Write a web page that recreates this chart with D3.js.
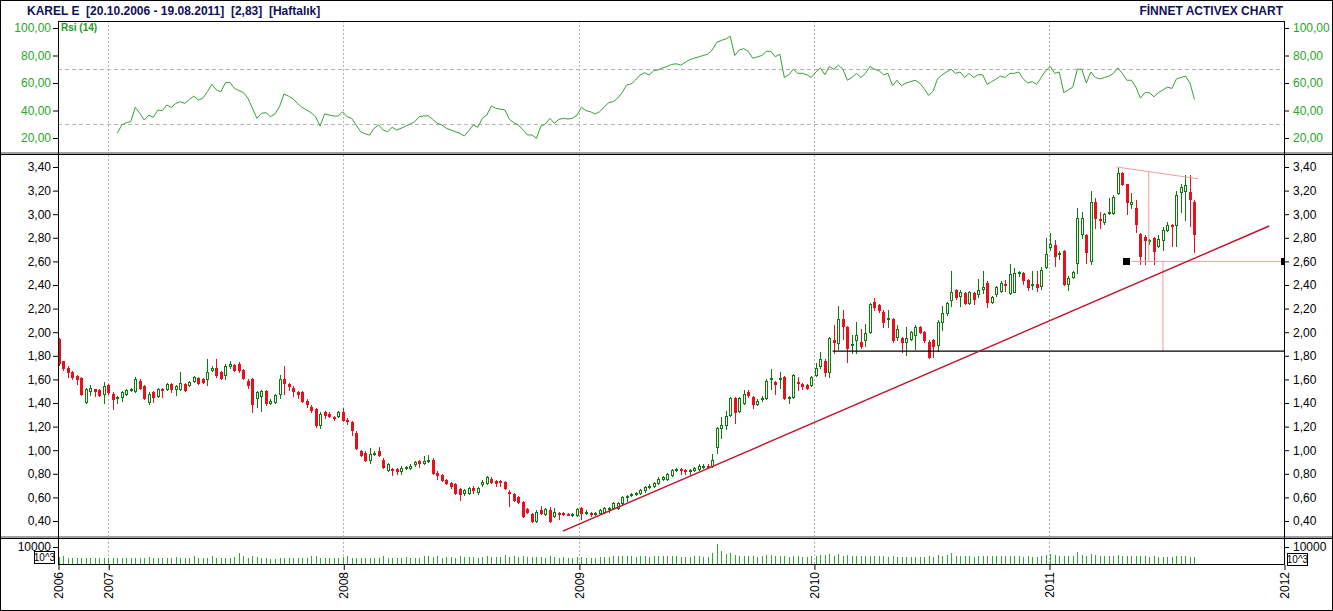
<!DOCTYPE html>
<html>
<head>
<meta charset="utf-8">
<script src="https://cdn.jsdelivr.net/npm/d3@7"></script>
<style>
body { margin: 0; background: #fff; }
svg text { font-family: Arial, "Liberation Sans", sans-serif; }
</style>
</head>
<body>
<div id="chart"></div>
<script>
// weekly bars, first bar = week of 20.10.2006 (plotted at week start)
var firstWeek = "2006-10-16";

var opens = [1.94,1.76,1.70,1.66,1.63,1.61,1.41,1.50,1.52,1.51,
  1.48,1.55,1.48,1.44,1.45,1.48,1.51,1.50,1.59,1.54,
  1.41,1.49,1.46,1.52,1.52,1.56,1.52,1.52,1.56,1.55,
  1.59,1.61,1.60,1.60,1.68,1.70,1.66,1.64,1.71,1.72,
  1.73,1.68,1.59,1.60,1.44,1.46,1.50,1.40,1.41,1.48,
  1.60,1.56,1.53,1.49,1.49,1.42,1.37,1.35,1.21,1.32,
  1.31,1.28,1.29,1.32,1.26,1.24,1.15,0.99,0.98,0.92,
  0.97,0.99,0.92,0.83,0.84,0.84,0.82,0.85,0.85,0.88,
  0.91,0.89,0.91,0.92,0.81,0.79,0.75,0.72,0.71,0.67,
  0.64,0.64,0.68,0.65,0.71,0.72,0.76,0.74,0.74,0.73,
  0.65,0.63,0.60,0.56,0.50,0.46,0.40,0.49,0.46,0.49,
  0.44,0.47,0.47,0.46,0.45,0.45,0.51,0.47,0.47,0.46,
  0.47,0.48,0.50,0.51,0.51,0.55,0.60,0.62,0.63,0.64,
  0.66,0.69,0.70,0.72,0.76,0.76,0.79,0.83,0.84,0.83,
  0.82,0.83,0.84,0.86,0.87,0.87,1.03,1.19,1.21,1.30,
  1.44,1.33,1.40,1.49,1.45,1.39,1.43,1.44,1.60,1.58,
  1.60,1.62,1.44,1.45,1.58,1.56,1.55,1.55,1.64,1.71,
  1.76,1.66,1.93,1.91,2.11,2.04,1.89,1.93,1.92,1.93,
  2.00,2.26,2.23,2.17,2.11,2.11,1.96,1.95,1.92,1.94,
  1.98,2.04,2.00,1.92,1.93,1.89,2.09,2.16,2.27,2.36,
  2.31,2.33,2.25,2.33,2.32,2.37,2.42,2.26,2.32,2.35,
  2.41,2.33,2.34,2.50,2.50,2.44,2.40,2.41,2.39,2.55,
  2.72,2.74,2.66,2.69,2.41,2.47,2.59,2.83,2.82,2.60,
  3.10,2.96,2.93,3.01,3.01,3.18,3.35,3.26,3.09,3.05,
  2.83,2.81,2.77,2.80,2.73,2.78,2.87,2.91,2.91,3.19,
  3.20,3.19,3.10];

var highs = [1.95,1.76,1.71,1.67,1.64,1.62,1.53,1.55,1.52,1.52,
  1.58,1.56,1.49,1.46,1.50,1.52,1.53,1.62,1.60,1.55,
  1.49,1.50,1.53,1.53,1.57,1.57,1.55,1.66,1.57,1.59,
  1.63,1.62,1.61,1.77,1.71,1.77,1.67,1.73,1.76,1.73,
  1.75,1.69,1.60,1.61,1.50,1.51,1.51,1.43,1.48,1.64,
  1.71,1.57,1.54,1.50,1.50,1.43,1.38,1.36,1.32,1.33,
  1.32,1.29,1.33,1.36,1.27,1.25,1.16,1.00,0.99,1.02,
  0.99,1.03,0.93,0.89,0.85,0.85,0.87,0.87,0.88,0.91,
  0.92,0.95,0.96,0.93,0.82,0.80,0.76,0.73,0.72,0.68,
  0.67,0.69,0.70,0.69,0.75,0.78,0.77,0.75,0.75,0.74,
  0.66,0.64,0.61,0.57,0.51,0.47,0.49,0.53,0.51,0.52,
  0.51,0.48,0.48,0.47,0.47,0.51,0.52,0.49,0.48,0.48,
  0.50,0.52,0.52,0.56,0.56,0.61,0.62,0.64,0.65,0.67,
  0.70,0.71,0.73,0.77,0.78,0.81,0.84,0.85,0.85,0.84,
  0.84,0.86,0.88,0.88,0.88,0.97,1.20,1.28,1.33,1.45,
  1.45,1.45,1.51,1.51,1.46,1.43,1.46,1.60,1.69,1.59,
  1.66,1.63,1.46,1.65,1.62,1.57,1.56,1.63,1.74,1.83,
  1.77,1.96,2.06,2.22,2.19,2.05,1.98,2.09,2.03,2.07,
  2.25,2.29,2.24,2.19,2.19,2.12,2.06,1.96,2.04,2.01,
  2.06,2.05,2.01,1.93,1.94,2.10,2.22,2.26,2.52,2.37,
  2.36,2.34,2.35,2.34,2.45,2.52,2.43,2.31,2.39,2.43,
  2.44,2.58,2.54,2.52,2.51,2.45,2.52,2.52,2.55,2.80,
  2.84,2.78,2.69,2.70,2.48,2.52,3.05,3.02,2.83,3.20,
  3.14,3.02,3.01,3.14,3.16,3.39,3.36,3.26,3.18,3.12,
  2.84,2.82,2.79,2.81,2.82,2.89,2.93,2.92,3.20,3.26,
  3.33,3.33,3.12];

var lows = [1.72,1.68,1.62,1.60,1.56,1.47,1.40,1.47,1.46,1.46,
  1.40,1.48,1.35,1.40,1.42,1.47,1.50,1.49,1.52,1.43,
  1.39,1.41,1.45,1.45,1.51,1.49,1.47,1.51,1.50,1.54,
  1.58,1.56,1.57,1.55,1.67,1.62,1.60,1.60,1.70,1.67,
  1.66,1.60,1.53,1.32,1.37,1.33,1.38,1.39,1.40,1.44,
  1.48,1.51,1.46,1.44,1.41,1.37,1.32,1.20,1.19,1.27,
  1.28,1.26,1.28,1.25,1.22,1.13,1.01,0.95,0.91,0.89,
  0.96,0.95,0.85,0.82,0.79,0.80,0.80,0.84,0.84,0.87,
  0.86,0.88,0.90,0.80,0.76,0.74,0.71,0.68,0.63,0.58,
  0.62,0.63,0.64,0.63,0.70,0.71,0.72,0.70,0.70,0.67,
  0.53,0.57,0.55,0.43,0.47,0.39,0.39,0.46,0.45,0.39,
  0.43,0.42,0.45,0.45,0.44,0.44,0.42,0.46,0.44,0.45,
  0.46,0.47,0.48,0.50,0.50,0.54,0.57,0.61,0.62,0.63,
  0.65,0.68,0.69,0.71,0.75,0.75,0.78,0.82,0.80,0.80,
  0.80,0.82,0.83,0.85,0.85,0.86,0.98,1.10,1.18,1.29,
  1.23,1.32,1.39,1.45,1.36,1.38,1.42,1.43,1.52,1.48,
  1.53,1.43,1.40,1.44,1.51,1.52,1.52,1.54,1.63,1.70,
  1.63,1.62,1.82,1.86,1.94,1.75,1.82,1.82,1.87,1.88,
  1.99,2.19,2.17,2.04,2.04,1.92,1.93,1.83,1.81,1.93,
  1.86,1.99,1.92,1.78,1.79,1.84,2.02,2.15,2.22,2.28,
  2.22,2.24,2.24,2.24,2.30,2.33,2.21,2.25,2.31,2.34,
  2.35,2.32,2.34,2.48,2.41,2.36,2.37,2.35,2.37,2.54,
  2.70,2.56,2.62,2.40,2.36,2.46,2.50,2.80,2.59,2.58,
  2.88,2.88,2.92,3.00,3.00,3.17,3.25,3.00,3.05,2.85,
  2.58,2.58,2.75,2.58,2.72,2.70,2.86,2.73,2.73,3.02,
  2.95,2.90,2.68];

var closes = [1.74,1.70,1.66,1.62,1.60,1.48,1.52,1.53,1.50,1.47,
  1.54,1.49,1.43,1.45,1.49,1.51,1.52,1.60,1.53,1.44,
  1.48,1.45,1.52,1.51,1.56,1.52,1.54,1.57,1.51,1.58,
  1.62,1.57,1.58,1.66,1.70,1.64,1.61,1.71,1.73,1.68,
  1.68,1.61,1.55,1.39,1.49,1.50,1.40,1.42,1.47,1.60,
  1.57,1.54,1.50,1.48,1.42,1.39,1.34,1.21,1.31,1.30,
  1.29,1.27,1.32,1.26,1.25,1.17,1.02,0.96,0.92,0.97,
  0.98,0.96,0.86,0.88,0.83,0.82,0.85,0.86,0.87,0.90,
  0.89,0.91,0.92,0.81,0.79,0.75,0.72,0.70,0.64,0.63,
  0.66,0.68,0.66,0.68,0.73,0.77,0.73,0.72,0.73,0.68,
  0.64,0.58,0.56,0.44,0.48,0.40,0.48,0.47,0.50,0.40,
  0.48,0.46,0.46,0.455,0.46,0.50,0.47,0.48,0.46,0.47,
  0.49,0.51,0.51,0.55,0.55,0.60,0.61,0.63,0.64,0.66,
  0.69,0.70,0.72,0.76,0.77,0.80,0.83,0.84,0.83,0.82,
  0.83,0.85,0.87,0.87,0.86,0.92,1.19,1.21,1.29,1.44,
  1.32,1.44,1.48,1.47,1.39,1.42,1.44,1.59,1.61,1.56,
  1.61,1.44,1.45,1.64,1.57,1.54,1.53,1.62,1.70,1.77,
  1.66,1.95,1.92,2.11,2.05,1.87,1.90,1.98,1.88,1.99,
  2.24,2.21,2.19,2.09,2.12,1.93,2.03,1.92,1.95,2.00,
  2.04,2.00,1.93,1.79,1.88,2.09,2.16,2.25,2.34,2.30,
  2.34,2.25,2.34,2.28,2.36,2.38,2.26,2.30,2.38,2.42,
  2.40,2.49,2.50,2.51,2.44,2.38,2.41,2.38,2.53,2.66,
  2.75,2.65,2.67,2.41,2.46,2.51,2.97,2.97,2.68,3.10,
  2.97,2.95,3.00,3.02,3.15,3.35,3.26,3.10,3.10,2.92,
  2.65,2.78,2.78,2.69,2.79,2.87,2.91,2.90,3.16,3.23,
  3.25,3.13,2.83];

// volume in thousands (axis unit 10^3)
var volumes = [4200,4800,3500,3500,3500,3500,3500,3300,3300,3300,
  3500,3300,3300,3600,3500,3500,3500,3600,3300,3500,
  4200,3500,3500,3400,3600,3600,3900,3600,3800,3800,
  4500,3800,3800,3800,4500,3800,3800,3600,3800,3900,
  6500,4600,3800,4600,4000,3600,3300,3200,3200,3400,
  3400,3600,3600,3700,3500,3800,4600,4800,3300,3500,
  3600,3600,3600,4000,4700,3800,3800,3500,3500,3600,
  3800,3800,4500,3700,3700,3700,3700,4000,3700,3700,
  3800,4500,4800,4000,4700,3700,4200,4200,3800,5000,
  4000,4400,4400,3800,4200,4500,4000,4000,4000,5200,
  4300,4500,4000,4500,4200,4200,4000,4400,3800,4500,
  4000,3800,4000,3800,3600,4400,4200,3800,3800,3800,
  4000,4200,4200,4500,4500,4800,4500,4500,4200,4500,
  4800,4200,4500,4500,4800,5000,4800,4500,4200,4200,
  4200,4500,4500,4200,4000,6500,11500,7500,6000,6500,
  5500,5000,5000,4800,4500,4200,4500,5500,5500,4500,
  4800,5000,4200,5000,4500,4200,4000,4500,5000,5200,
  5500,5800,5000,6000,5000,5500,4500,4800,4500,4500,
  5000,4800,4500,4500,4200,4500,4200,4000,4000,4000,
  4000,4000,4200,4500,4200,5500,5000,5500,6500,5000,
  4500,4500,4500,4200,4500,5000,5000,4500,4500,4500,
  4500,5000,4800,4500,4200,4500,4200,4200,4800,5500,
  6000,5500,4500,5000,4800,4500,7000,5500,5000,6000,
  5500,5000,4800,4500,4500,5500,5000,4800,4500,5000,
  5000,4500,4200,4500,4200,4200,4000,4000,4500,4500,
  4500,4200,4000];

// RSI(14), first value on week index 13
var rsiStart = 13;
var rsiValues = [23.4,29.5,31.1,31.9,42.3,38,33.1,36.7,35,40.4,
  39.9,44,42.3,45.2,46.4,45.2,48,50.5,47.6,48.9,
  53.7,59,54.9,53.7,60.2,60.5,56.1,54.5,53,48.9,
  41.6,34.3,38,38.4,35.5,37.5,42.8,52,50.5,48.4,
  45.2,42.3,40.4,38.4,35.5,28.7,37.5,36.7,36,36,
  39.1,35.5,34.3,29.5,24.6,23,22.2,27.1,29.5,25.8,
  24.6,27.8,25.8,27.1,28.7,30.2,31.9,35.5,36,36.2,
  33.5,30.7,29.5,27.1,25.8,24.6,23.4,21.5,25.3,29.5,
  27.8,34.3,36.7,43.3,41.6,40.9,40.4,33.6,31.1,29.5,
  26,22.2,22.2,19.8,28.7,30.2,34.3,30.7,33.6,34.3,
  33.8,34.3,36.7,42.3,39.9,39.1,37.5,39.1,42.3,45.7,
  46.4,48.9,53,58.5,59.3,62.2,65.8,67.5,65.8,68.9,
  69.5,71,72,73.5,74,73,75,77,78,79,
  80,81,84,89.5,91,92,94,80,84,85,
  83,78,79,80,83,83,79,81,64,66,
  70,67,67,66,64,68,71,66,72,70,
  73,70,62,64,67,64,67,72,70,69,
  66,67,58,62,58,60,61,62,60,56,
  51,54,63,66,68,70,67,68,64,67,
  64,66,66,59,61,63,65,64,67,67,
  68,63,60,61,59,64,69,72,67,68,
  53,55,57,70,70,60,68,64,63,64,
  65,67,71,67,62,62,57,49,53,53,
  50,53,55,57,56,63,64,65,60,48];

var priceTicks = [0.4,0.6,0.8,1.0,1.2,1.4,1.6,1.8,2.0,2.2,2.4,2.6,2.8,3.0,3.2,3.4];
var rsiTicks = [20,40,60,80,100];
var rsiLevels = [30,70];
var volumeTicks = [10000];
var axisDates = ["2006-10-15","2007-01-01","2008-01-01","2009-01-01","2010-01-01","2011-01-01","2012-01-01"];
var gridDates = ["2007-01-01","2008-01-01","2009-01-01","2010-01-01","2011-01-01"];

// drawn analysis lines [date, price]
var trendLine = [["2008-12-07",0.315],["2011-12-09",2.90]];
var supportLine = [["2010-01-30",1.84],["2012-01-01",1.84]];
var channelLines = [
  [["2011-04-16",3.40],["2011-08-21",3.30]],
  [["2011-05-08",2.60],["2012-01-01",2.60]],
  [["2011-06-05",3.36],["2011-06-05",2.60]],
  [["2011-06-27",2.60],["2011-06-27",1.84]]
];
var markers = [["2011-04-30",2.60],["2012-01-01",2.60]];

var parse = d3.timeParse("%Y-%m-%d");
var comma = function(v) { return d3.format(".2f")(v).replace(".", ","); };

var W = 1333, H = 611;
var left = 58, right = 1284;
var rsiTop = 21, rsiBottom = 152, priceTop = 155, priceBottom = 536, volTop = 538, volBottom = 564;

var weeks = d3.range(closes.length).map(function(i) { return d3.timeDay.offset(parse(firstWeek), 7 * i); });
var bars = weeks.map(function(d, i) {
  return {date: d, o: opens[i], h: highs[i], l: lows[i], c: closes[i], v: volumes[i]};
});
var rsi = rsiValues.map(function(v, i) { return {date: weeks[rsiStart + i], v: v}; });

var x = d3.scaleTime().domain([parse(axisDates[0]), parse("2012-01-01")]).range([left, right]);
var y = d3.scaleLinear().domain([0.4, 3.4]).range([521, 167]);
var yr = d3.scaleLinear().domain([20, 100]).range([138, 28]);
var yv = d3.scaleLinear().domain([0, 10000]).range([volBottom, 547]);

var svg = d3.select("#chart").append("svg").attr("width", W).attr("height", H);
svg.append("rect").attr("width", W).attr("height", H).attr("fill", "#fff");

var defs = svg.append("defs");
defs.append("clipPath").attr("id", "clipPrice").append("rect")
  .attr("x", left).attr("y", priceTop).attr("width", right - left + 1).attr("height", priceBottom - priceTop);

// title
svg.append("text").attr("x", 27).attr("y", 15).attr("font-size", "12px").attr("font-weight", "bold")
  .attr("fill", "#10105a").attr("xml:space", "preserve")
  .text("KAREL E  [20.10.2006 - 19.08.2011]  [2,83]  [Haftalık]");
svg.append("text").attr("x", 1283).attr("y", 15).attr("font-size", "12px").attr("font-weight", "bold")
  .attr("fill", "#10105a").attr("text-anchor", "end").text("FİNNET ACTIVEX CHART");

// year grid lines through all panels
[[rsiTop, rsiBottom], [priceTop, priceBottom], [volTop, volBottom]].forEach(function(p) {
  svg.append("g").selectAll("line").data(gridDates).enter().append("line")
    .attr("x1", function(d) { return Math.round(x(parse(d))) + 0.5; })
    .attr("x2", function(d) { return Math.round(x(parse(d))) + 0.5; })
    .attr("y1", p[0]).attr("y2", p[1])
    .attr("stroke", "#b4b4b4").attr("stroke-dasharray", "2,2");
});

// RSI panel
svg.append("g").selectAll("line").data(rsiLevels).enter().append("line")
  .attr("x1", left).attr("x2", right)
  .attr("y1", function(d) { return Math.round(yr(d)) + 0.5; })
  .attr("y2", function(d) { return Math.round(yr(d)) + 0.5; })
  .attr("stroke", "#b4b4b4").attr("stroke-dasharray", "4,3");

svg.append("path").datum(rsi)
  .attr("fill", "none").attr("stroke", "#3a9e3a").attr("stroke-width", 1)
  .attr("d", d3.line().x(function(d) { return x(d.date); }).y(function(d) { return yr(d.v); }));

svg.append("text").attr("x", 61).attr("y", 31).attr("font-size", "10px").attr("font-weight", "bold")
  .attr("fill", "#1f9a1f").text("Rsi (14)");

function sideAxes(scale, major, minor, fmt, color) {
  var gl = svg.append("g").attr("transform", "translate(" + left + ",0)");
  gl.call(d3.axisLeft(scale).tickValues(minor).tickFormat("").tickSize(4).tickSizeOuter(0));
  gl.call(d3.axisLeft(scale).tickValues(major).tickFormat(fmt).tickSize(5).tickSizeOuter(0).tickPadding(2));
  var gr = svg.append("g").attr("transform", "translate(" + right + ",0)");
  gr.call(d3.axisRight(scale).tickValues(minor).tickFormat("").tickSize(4).tickSizeOuter(0));
  gr.call(d3.axisRight(scale).tickValues(major).tickFormat(fmt).tickSize(5).tickSizeOuter(0).tickPadding(4));
  [gl, gr].forEach(function(g) {
    g.selectAll(".domain").remove();
    g.selectAll("line").attr("stroke", "#000");
    g.selectAll("text").attr("fill", color).attr("font-size", "12px")
      .style("font-family", "Arial, 'Liberation Sans', sans-serif");
  });
}
sideAxes(yr, rsiTicks, d3.range(20, 101, 5), comma, "#26a626");
sideAxes(y, priceTicks, d3.range(4, 35).map(function(k) { return k / 10; }), comma, "#000");
sideAxes(yv, volumeTicks, volumeTicks, function(d) { return d; }, "#000");

// price panel
var pg = svg.append("g").attr("clip-path", "url(#clipPrice)");
var candles = pg.append("g").attr("shape-rendering", "crispEdges").selectAll("g").data(bars).enter().append("g");
candles.append("line")
  .attr("x1", function(d) { return Math.round(x(d.date)) + 0.5; })
  .attr("x2", function(d) { return Math.round(x(d.date)) + 0.5; })
  .attr("y1", function(d) { return Math.round(y(d.h)); })
  .attr("y2", function(d) { return Math.round(y(d.l)) + 1; })
  .attr("stroke", function(d) { return d.c > d.o ? "#0e7a0e" : "#e8101c"; });
candles.append("rect")
  .attr("x", function(d) { return d.c > d.o ? Math.round(x(d.date)) - 0.5 : Math.round(x(d.date)) - 1; })
  .attr("y", function(d) { return Math.round(y(Math.max(d.o, d.c))) + (d.c > d.o ? 0.5 : 0); })
  .attr("width", function(d) { return d.c > d.o ? 2 : 3; })
  .attr("height", function(d) {
    var hgt = Math.max(1, Math.round(y(Math.min(d.o, d.c))) - Math.round(y(Math.max(d.o, d.c))));
    return d.c > d.o ? Math.max(1, hgt) : hgt + 1;
  })
  .attr("fill", function(d) { return d.c > d.o ? "#fff" : "#e8101c"; })
  .attr("stroke", function(d) { return d.c > d.o ? "#0e7a0e" : "none"; });

var seg = d3.line().x(function(d) { return x(parse(d[0])); }).y(function(d) { return y(d[1]); });
pg.append("g").selectAll("path").data(channelLines).enter().append("path")
  .attr("d", seg).attr("fill", "none").attr("stroke", "#ee9e9e").attr("stroke-width", 1);
pg.append("path").datum(supportLine).attr("d", seg).attr("fill", "none").attr("stroke", "#000").attr("stroke-width", 1.2);
pg.append("path").datum(trendLine).attr("d", seg).attr("fill", "none").attr("stroke", "#c0102a").attr("stroke-width", 1.4);
pg.append("g").selectAll("rect").data(markers).enter().append("rect")
  .attr("x", function(d) { return Math.round(x(parse(d[0]))) - 3; })
  .attr("y", function(d) { return Math.round(y(d[1])) - 3; })
  .attr("width", 7).attr("height", 7).attr("fill", "#000");

// volume panel
svg.append("g").attr("shape-rendering", "crispEdges").selectAll("line").data(bars).enter().append("line")
  .attr("x1", function(d) { return Math.round(x(d.date)) + 0.5; })
  .attr("x2", function(d) { return Math.round(x(d.date)) + 0.5; })
  .attr("y1", volBottom).attr("y2", function(d) { return Math.round(yv(d.v)); })
  .attr("stroke", "#2ea82e");

[[34, 551], [1287, 553]].forEach(function(p) {
  svg.append("rect").attr("x", p[0] + 0.5).attr("y", p[1] + 0.5).attr("width", 20).attr("height", 12)
    .attr("fill", "#fff").attr("stroke", "#000");
  svg.append("text").attr("x", p[0] + 10.5).attr("y", p[1] + 10).attr("text-anchor", "middle")
    .attr("font-size", "10px").text("10^3");
});

// frame, separators, axis lines
var frame = svg.append("g").attr("shape-rendering", "crispEdges");
frame.append("rect").attr("x", 0).attr("y", 152).attr("width", W).attr("height", 2).attr("fill", "#a0a0a0");
frame.append("rect").attr("x", 0).attr("y", 154).attr("width", W).attr("height", 1).attr("fill", "#000");
frame.append("rect").attr("x", 0).attr("y", 536).attr("width", W).attr("height", 2).attr("fill", "#a0a0a0");
frame.append("rect").attr("x", 0).attr("y", 538).attr("width", W).attr("height", 1).attr("fill", "#000");
frame.append("line").attr("x1", left).attr("x2", right + 1).attr("y1", rsiTop + 0.5).attr("y2", rsiTop + 0.5).attr("stroke", "#000");
frame.append("line").attr("x1", left).attr("x2", right + 1).attr("y1", volBottom + 0.5).attr("y2", volBottom + 0.5).attr("stroke", "#000");
[left, right].forEach(function(px) {
  frame.append("line").attr("x1", px + 0.5).attr("x2", px + 0.5).attr("y1", rsiTop).attr("y2", volBottom + 1).attr("stroke", "#000");
});
frame.append("rect").attr("x", 0.5).attr("y", 0.5).attr("width", W - 1).attr("height", H - 1)
  .attr("fill", "none").attr("stroke", "#000");

// time axis with rotated year labels
var xa = svg.append("g").attr("transform", "translate(0," + (volBottom + 1) + ")")
  .call(d3.axisBottom(x).tickValues(axisDates.map(parse)).tickFormat(d3.timeFormat("%Y")).tickSize(5).tickSizeOuter(0));
xa.select(".domain").remove();
xa.selectAll("line").attr("stroke", "#000").attr("transform", "translate(0.5,0)");
xa.selectAll("text").attr("transform", "rotate(-90)").attr("text-anchor", "end")
  .attr("x", -7).attr("y", 0).attr("dy", "0.35em").attr("fill", "#000").attr("font-size", "12px")
  .style("font-family", "Arial, 'Liberation Sans', sans-serif");
</script>
</body>
</html>
